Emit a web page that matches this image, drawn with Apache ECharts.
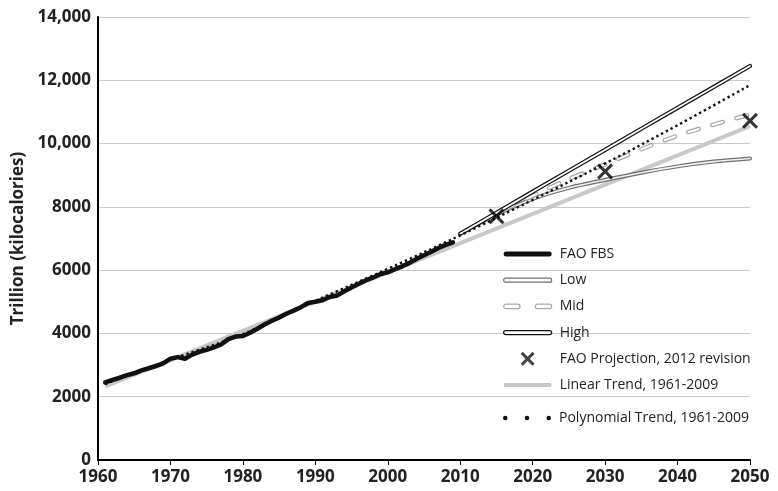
<!DOCTYPE html>
<html>
<head>
<meta charset="utf-8">
<script src="https://cdn.jsdelivr.net/npm/echarts@6/dist/echarts.min.js"></script>
<style>
html,body{margin:0;padding:0;background:#fff;}
#chart{width:778px;height:491px;}
</style>
</head>
<body>
<div id="chart"></div>
<script>
// ---- data ----
const fbsYears = [1961,1962,1963,1964,1965,1966,1967,1968,1969,1970,1971,1972,1973,1974,1975,1976,1977,1978,1979,1980,1981,1982,1983,1984,1985,1986,1987,1988,1989,1990,1991,1992,1993,1994,1995,1996,1997,1998,1999,2000,2001,2002,2003,2004,2005,2006,2007,2008,2009];
const fbsValues = [2450,2530,2600,2680,2740,2830,2900,2970,3050,3200,3250,3200,3330,3420,3480,3560,3650,3820,3900,3920,4020,4150,4280,4400,4500,4620,4720,4830,4960,5000,5050,5150,5200,5330,5450,5570,5680,5770,5880,5930,6030,6120,6230,6360,6470,6580,6700,6800,6880];

const projYears = [2010,2015,2020,2025,2030,2035,2040,2045,2050];
const lowValues  = [7150,7750,8250,8600,8850,9080,9280,9430,9530];
const midValues  = [7150,7780,8350,8880,9340,9820,10250,10600,10920];
const highValues = [7150,7810,8480,9140,9800,10470,11130,11790,12450];

const faoProjYears  = [2015,2030,2050];
const faoProjValues = [7700,9120,10720];

const linearYears  = [1961,2009,2050];
const linearValues = [2330,6760,10550];

const polyYears  = [1961,1970,1980,1990,2000,2010,2020,2030,2040,2050];
const polyValues = [2400,3170,3980,5030,6040,7100,8220,9370,10580,11850];

const xTicks = [1960,1970,1980,1990,2000,2010,2020,2030,2040,2050];
const yTicks = [0,2000,4000,6000,8000,10000,12000,14000];
const yTickLabels = ['0','2000','4000','6000','8000','10,000','12,000','14,000'];

const pairs = (xs, ys) => xs.map((x, i) => [x, ys[i]]);

// ---- icons ----
const pill48 = 'path://M2,0 L46,0 A2,2 0 0 1 46,4 L2,4 A2,2 0 0 1 2,0 Z';
const bar48 = 'path://M2.5,0 L45.5,0 A2.5,2.5 0 0 1 45.5,5 L2.5,5 A2.5,2.5 0 0 1 2.5,0 Z';
const twoPills = 'path://M2,0 L13,0 A2,2 0 0 1 13,4 L2,4 A2,2 0 0 1 2,0 Z M31,0 L42,0 A2,2 0 0 1 42,4 L31,4 A2,2 0 0 1 31,0 Z';
const xIcon = 'path://M0,1.5 L1.5,0 L5,3.5 L8.5,0 L10,1.5 L6.5,5 L10,8.5 L8.5,10 L5,6.5 L1.5,10 L0,8.5 L3.5,5 Z';
const xMark = 'path://M0,1.35 L1.35,0 L5,3.65 L8.65,0 L10,1.35 L6.35,5 L10,8.65 L8.65,10 L5,6.35 L1.35,10 L0,8.65 L3.65,5 Z';
const dots3 = 'path://M0,1.6 A1.6,1.6 0 1 1 3.2,1.6 A1.6,1.6 0 1 1 0,1.6 Z M15.4,1.6 A1.6,1.6 0 1 1 18.6,1.6 A1.6,1.6 0 1 1 15.4,1.6 Z M30.8,1.6 A1.6,1.6 0 1 1 34,1.6 A1.6,1.6 0 1 1 30.8,1.6 Z';

const font = '"Open Sans", Lato, sans-serif';
const chart = echarts.init(document.getElementById('chart'), null, {renderer: 'canvas'});

const lineBase = {type: 'line', showSymbol: false, symbol: 'none', animation: false, silent: true};

chart.setOption({
  backgroundColor: '#ffffff',
  animation: false,
  grid: {left: 98, right: 28, top: 17, bottom: 31, containLabel: false},
  xAxis: {
    type: 'value', min: 1960, max: 2050, interval: 10,
    axisLine: {show: true, onZero: false, lineStyle: {color: '#000', width: 2}},
    axisTick: {show: true, length: 5, lineStyle: {color: '#000', width: 1}},
    splitLine: {show: false},
    axisLabel: {color: '#222', fontFamily: font, fontWeight: 'bold', fontSize: 17, margin: 9,
      formatter: v => (xTicks.indexOf(v) >= 0 ? String(v) : '')}
  },
  yAxis: {
    type: 'value', min: 0, max: 14000, interval: 2000,
    name: 'Trillion (kilocalories)', nameLocation: 'middle', nameGap: 64, nameRotate: 90,
    nameTextStyle: {color: '#222', fontFamily: font, fontWeight: 'bold', fontSize: 17},
    axisLine: {show: true, lineStyle: {color: '#000', width: 2}},
    axisTick: {show: false},
    splitLine: {show: true, lineStyle: {color: '#c9c9c9', width: 1}},
    axisLabel: {color: '#222', fontFamily: font, fontWeight: 'bold', fontSize: 17, margin: 7,
      formatter: v => { const i = yTicks.indexOf(v); return i >= 0 ? yTickLabels[i] : ''; }}
  },
  legend: [{
    orient: 'vertical', left: 503, top: 247, padding: 0, itemGap: 12.2,
    itemWidth: 48, itemHeight: 14, selectedMode: false,
    textStyle: {color: '#222', fontFamily: font, fontSize: 14, padding: [0, 0, 0, 3]},
    data: [
      {name: 'FAO FBS', icon: bar48, itemStyle: {color: '#111', borderWidth: 0}},
      {name: 'Low', icon: pill48, itemStyle: {color: '#fff', borderColor: '#6e6e6e', borderWidth: 1.2}},
      {name: 'Mid', icon: twoPills, itemStyle: {color: '#fff', borderColor: '#a8a8a8', borderWidth: 1.2}},
      {name: 'High', icon: pill48, itemStyle: {color: '#fff', borderColor: '#111', borderWidth: 1.3}},
      {name: 'FAO Projection, 2012 revision', icon: xIcon, itemStyle: {color: '#111', borderWidth: 0}},
      {name: 'Linear Trend, 1961-2009', icon: pill48, itemStyle: {color: '#c8c8c8', borderWidth: 0}}
    ]
  }, {
    orient: 'vertical', left: 503, top: 411, padding: 0,
    itemWidth: 48, itemHeight: 14, selectedMode: false,
    textStyle: {color: '#222', fontFamily: font, fontSize: 14, padding: [0, 0, 0, 3]},
    data: [
      {name: 'Polynomial Trend, 1961-2009', icon: dots3, itemStyle: {color: '#111', borderWidth: 0}}
    ]
  }],
  series: [
    Object.assign({}, lineBase, {name: 'Linear Trend, 1961-2009', data: pairs(linearYears, linearValues),
      lineStyle: {color: '#c8c8c8', width: 4}, itemStyle: {color: '#c8c8c8'}, z: 1}),
    Object.assign({}, lineBase, {name: 'FAO FBS', data: pairs(fbsYears, fbsValues),
      lineStyle: {color: '#111', width: 4.5, cap: 'round', join: 'round'}, itemStyle: {color: '#111'}, z: 2}),
    Object.assign({}, lineBase, {name: 'Low', data: pairs(projYears, lowValues), smooth: 0.3,
      lineStyle: {color: '#6e6e6e', width: 4, cap: 'round'}, itemStyle: {color: '#6e6e6e'}, z: 3}),
    Object.assign({}, lineBase, {name: 'Low', data: pairs(projYears, lowValues), smooth: 0.3,
      lineStyle: {color: '#f2f2f2', width: 1.6, cap: 'round'}, itemStyle: {color: '#6e6e6e'}, z: 3}),
    Object.assign({}, lineBase, {name: 'Mid', data: pairs(projYears, midValues), smooth: 0.3,
      lineStyle: {color: '#a8a8a8', width: 4.5, type: [11, 14], cap: 'round'}, itemStyle: {color: '#a8a8a8'}, z: 4}),
    Object.assign({}, lineBase, {name: 'Mid', data: pairs(projYears, midValues), smooth: 0.3,
      lineStyle: {color: '#ffffff', width: 2, type: [11, 14], cap: 'round'}, itemStyle: {color: '#a8a8a8'}, z: 4}),
    Object.assign({}, lineBase, {name: 'High', data: pairs(projYears, highValues),
      lineStyle: {color: '#111', width: 4.2, cap: 'round'}, itemStyle: {color: '#111'}, z: 5}),
    Object.assign({}, lineBase, {name: 'High', data: pairs(projYears, highValues),
      lineStyle: {color: '#ffffff', width: 1.8, cap: 'round'}, itemStyle: {color: '#111'}, z: 5}),
    Object.assign({}, lineBase, {name: 'Polynomial Trend, 1961-2009', data: pairs(polyYears, polyValues), smooth: 0.4,
      lineStyle: {color: '#111', width: 2.4, type: [2.4, 3]}, itemStyle: {color: '#111'}, z: 6}),
    {type: 'scatter', name: 'FAO Projection, 2012 revision', data: pairs(faoProjYears, faoProjValues),
      symbol: xMark, symbolSize: 16, itemStyle: {color: '#000'}, z: 7, silent: true, animation: false}
  ]
});
</script>
</body>
</html>
